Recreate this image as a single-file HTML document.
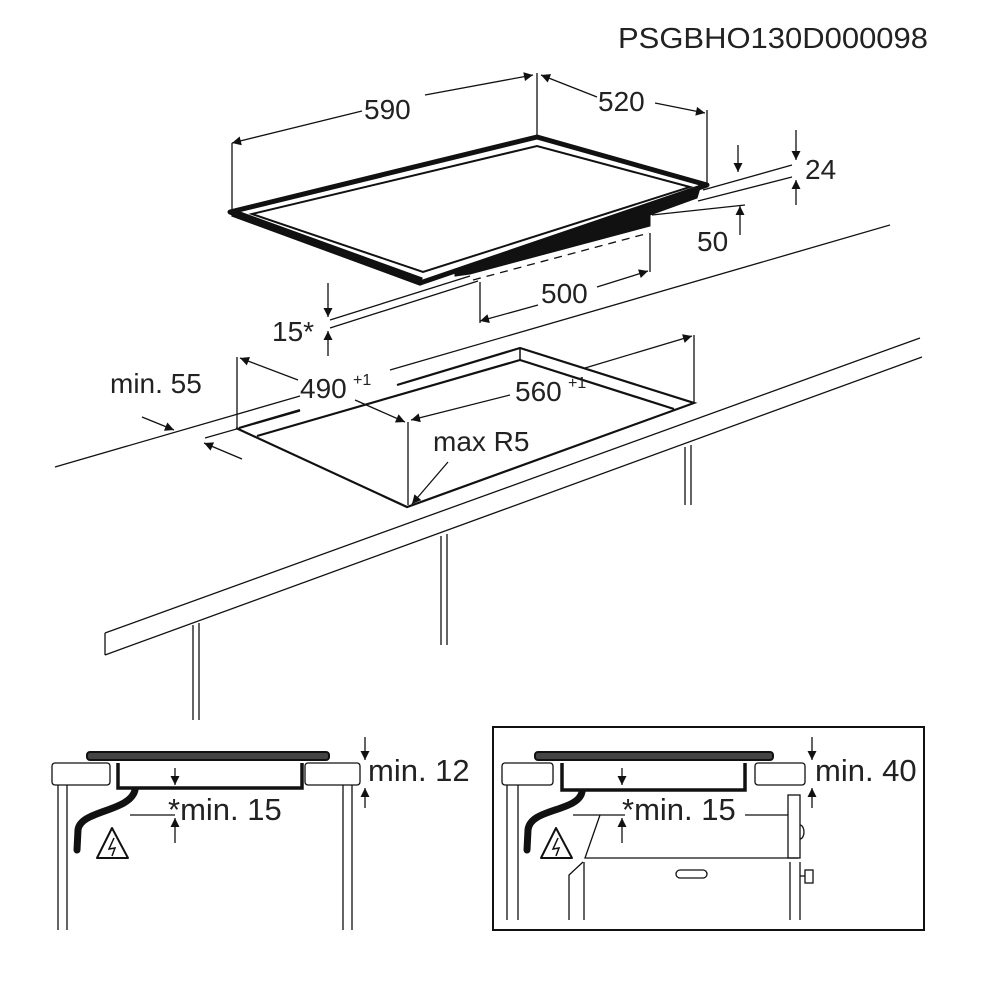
<!DOCTYPE html>
<html><head><meta charset="utf-8"><style>
html,body{margin:0;padding:0;background:#fff}
svg{display:block}
text{font-family:"Liberation Sans",sans-serif;fill:#222}
</style></head><body>
<svg width="1000" height="1000" viewBox="0 0 1000 1000" xmlns="http://www.w3.org/2000/svg">
<defs>
<marker id="a" viewBox="0 0 10 10" refX="10" refY="5" markerWidth="11" markerHeight="9" orient="auto-start-reverse" markerUnits="userSpaceOnUse"><path d="M0,0 L10,5 L0,10 z" fill="#111"/></marker>
</defs>
<g stroke="#111" fill="none" stroke-width="1.3">
<text x="618" y="48" font-size="29" stroke="none" textLength="310" lengthAdjust="spacingAndGlyphs">PSGBHO130D000098</text>

<!-- hob -->
<line x1="232" y1="210" x2="232" y2="143"/>
<line x1="537" y1="137" x2="537" y2="73"/>
<line x1="707" y1="185" x2="707" y2="110"/>
<polyline points="362,111 232,143" marker-end="url(#a)"/>
<polyline points="425,95 533,75" marker-end="url(#a)"/>
<polyline points="597,97 541,75" marker-end="url(#a)"/>
<polyline points="655,103 705,113" marker-end="url(#a)"/>
<text x="364" y="119" font-size="28" stroke="none">590</text>
<text x="598" y="111" font-size="28" stroke="none">520</text>

<polygon points="230,212 537,137 707,185 420,283" stroke-width="5" stroke-linejoin="round"/>
<polygon points="252,214 537,146 690,187 423,272" stroke-width="2"/>
<polygon points="232,216 420,285 422,278 234,210" fill="#111"/>
<polygon points="455,272 650,203 700,188 697,198 650,215 650,226 470,274 455,276" fill="#111" stroke-width="1"/>
<line x1="473" y1="280" x2="649" y2="233" stroke-dasharray="8,6"/>

<line x1="703" y1="190" x2="792" y2="165"/>
<line x1="698" y1="201" x2="792" y2="177"/>
<line x1="652" y1="215" x2="745" y2="205"/>
<polyline points="738,145 738,172" marker-end="url(#a)"/>
<polyline points="796,130 796,160" marker-end="url(#a)"/>
<polyline points="796,205 796,180" marker-end="url(#a)"/>
<polyline points="740,235 740,206" marker-end="url(#a)"/>
<text x="805" y="179" font-size="28" stroke="none">24</text>
<text x="697" y="251" font-size="28" stroke="none">50</text>

<line x1="480" y1="282" x2="480" y2="323"/>
<line x1="650" y1="233" x2="650" y2="272"/>
<polyline points="538,305 480,321" marker-end="url(#a)"/>
<polyline points="597,287 648,271" marker-end="url(#a)"/>
<text x="541" y="303" font-size="28" stroke="none">500</text>

<line x1="330" y1="320" x2="470" y2="276"/>
<line x1="330" y1="328" x2="478" y2="281"/>
<polyline points="328,283 328,317" marker-end="url(#a)"/>
<polyline points="328,356 328,331" marker-end="url(#a)"/>
<text x="272" y="341" font-size="28" stroke="none">15*</text>

<!-- countertop -->
<line x1="55" y1="467" x2="300" y2="396"/>
<line x1="390" y1="370" x2="890" y2="225"/>
<line x1="105" y1="633" x2="920" y2="338"/>
<line x1="105" y1="655" x2="922" y2="357"/>
<line x1="105" y1="633" x2="105" y2="655"/>
<!-- cutout -->
<polyline points="236,428 407,507 694,403 520,348 397,385" stroke-width="2.2"/>
<line x1="257" y1="436" x2="520" y2="360" stroke-width="2.2"/>
<line x1="520" y1="360" x2="674" y2="409" stroke-width="2.2"/>
<line x1="520" y1="348" x2="520" y2="360" stroke-width="1.5"/>
<line x1="239" y1="428" x2="300" y2="410" stroke-width="2.2"/>
<line x1="205" y1="438" x2="300" y2="411" stroke-width="1.2"/>
<line x1="408" y1="422" x2="408" y2="505"/>
<line x1="237" y1="357" x2="237" y2="428"/>
<line x1="694" y1="335" x2="694" y2="403"/>
<polyline points="298,380 240,358" marker-end="url(#a)"/>
<polyline points="355,400 405,422" marker-end="url(#a)"/>
<polyline points="510,395 411,420" marker-end="url(#a)"/>
<polyline points="585,368 692,336" marker-end="url(#a)"/>
<text x="300" y="398" font-size="28" stroke="none">490</text>
<text x="353" y="385" font-size="16" stroke="none">+1</text>
<text x="515" y="401" font-size="28" stroke="none">560</text>
<text x="568" y="388" font-size="16" stroke="none">+1</text>
<text x="433" y="451" font-size="28" stroke="none">max R5</text>
<polyline points="448,462 412,504" marker-end="url(#a)"/>
<text x="110" y="393" font-size="28" stroke="none">min. 55</text>
<polyline points="142,417 174,430" marker-end="url(#a)"/>
<polyline points="242,459 204,443" marker-end="url(#a)"/>

<!-- legs -->
<line x1="193" y1="625" x2="193" y2="720"/><line x1="199" y1="623" x2="199" y2="720"/>
<line x1="441" y1="536" x2="441" y2="645"/><line x1="447" y1="534" x2="447" y2="645"/>
<line x1="685" y1="447" x2="685" y2="505"/><line x1="691" y1="445" x2="691" y2="505"/>

<!-- bottom left panel -->
<rect x="87" y="752" width="242" height="8" rx="3" fill="#444" stroke-width="2"/>
<rect x="52" y="763" width="58" height="22" rx="3"/>
<rect x="305" y="763" width="55" height="22" rx="3"/>
<polyline points="118,763 118,788 302,788 302,763" stroke-width="3.5"/>
<line x1="58" y1="785" x2="58" y2="930"/><line x1="67" y1="785" x2="67" y2="930"/>
<line x1="343" y1="785" x2="343" y2="930"/><line x1="352" y1="785" x2="352" y2="930"/>
<path d="M135,790 C130,812 80,810 78,830 L77,850" stroke-width="7" stroke-linecap="round"/>
<path d="M112,828 L97,858 L128,858 Z" stroke-width="2" stroke-linejoin="round"/>
<path d="M114,838 L109,849 L115,848 L112,856" stroke-width="1.5"/>
<polyline points="175,768 175,785" marker-end="url(#a)"/>
<polyline points="175,843 175,818" marker-end="url(#a)"/>
<line x1="130" y1="815" x2="175" y2="815"/>
<text x="168" y="820" font-size="31" stroke="none">*min. 15</text>
<polyline points="365,737 365,760" marker-end="url(#a)"/>
<polyline points="365,808 365,788" marker-end="url(#a)"/>
<text x="368" y="781" font-size="31" stroke="none">min. 12</text>

<!-- bottom right panel -->
<rect x="493" y="727" width="431" height="203" stroke-width="2"/>
<rect x="535" y="752" width="238" height="8" rx="3" fill="#444" stroke-width="2"/>
<rect x="502" y="763" width="51" height="22" rx="3"/>
<rect x="755" y="763" width="50" height="22" rx="3"/>
<polyline points="562,763 562,790 745,790 745,763" stroke-width="3.5"/>
<line x1="507" y1="785" x2="507" y2="920"/><line x1="518" y1="785" x2="518" y2="920"/>
<path d="M582,792 C578,812 530,808 528,830 L527,850" stroke-width="7" stroke-linecap="round"/>
<path d="M556,828 L541,858 L572,858 Z" stroke-width="2" stroke-linejoin="round"/>
<path d="M558,838 L553,849 L559,848 L556,856" stroke-width="1.5"/>
<polyline points="600,815 585,858 798,858"/>
<polyline points="583,862 569,875 569,920"/>
<line x1="584" y1="862" x2="584" y2="920"/>
<rect x="788" y="795" width="12" height="63"/>
<line x1="790" y1="862" x2="790" y2="920"/><line x1="800" y1="862" x2="800" y2="920"/>
<path d="M800,825 a4,7 0 0 1 0,14"/>
<rect x="805" y="870" width="8" height="13"/><line x1="800" y1="876" x2="805" y2="876"/>
<rect x="676" y="870" width="31" height="8" rx="4"/>
<line x1="573" y1="815" x2="625" y2="815"/>
<line x1="745" y1="815" x2="788" y2="815"/>
<polyline points="622,768 622,785" marker-end="url(#a)"/>
<polyline points="622,843 622,818" marker-end="url(#a)"/>
<text x="622" y="820" font-size="31" stroke="none">*min. 15</text>
<polyline points="812,737 812,760" marker-end="url(#a)"/>
<polyline points="812,808 812,788" marker-end="url(#a)"/>
<text x="815" y="781" font-size="31" stroke="none">min. 40</text>
</g>
</svg>
</body></html>
